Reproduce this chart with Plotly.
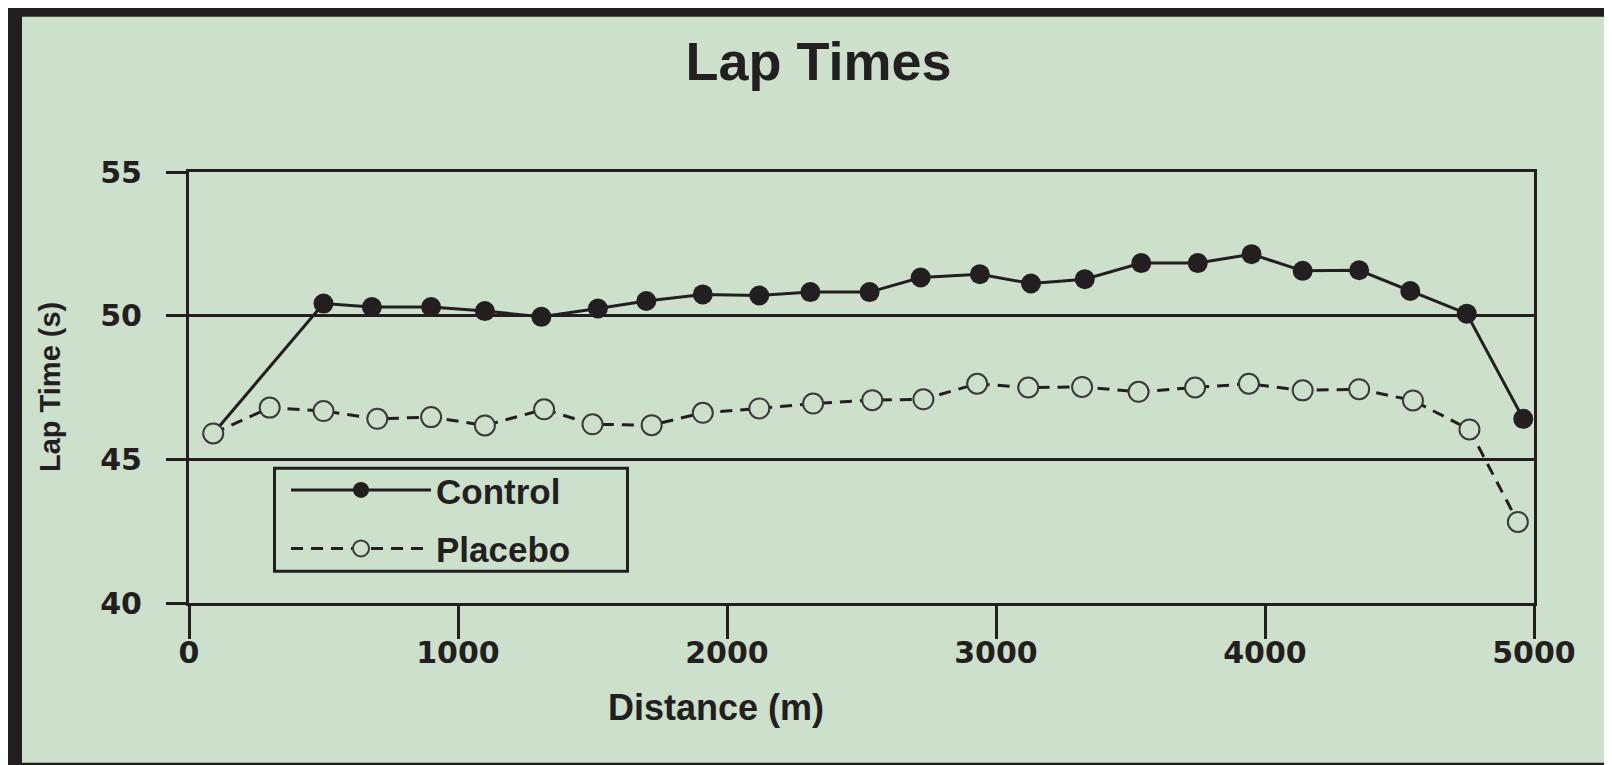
import plotly.graph_objects as go

# ---------------- data ----------------
control_distance = [90, 500, 680, 900, 1100, 1310, 1520, 1700, 1910, 2120, 2310, 2530,
                    2720, 2940, 3130, 3330, 3540, 3750, 3950, 4140, 4350, 4540, 4750, 4960]
control_time = [45.9, 50.42, 50.30, 50.30, 50.16, 49.96, 50.25, 50.51, 50.74, 50.70, 50.82, 50.82,
                51.33, 51.44, 51.12, 51.27, 51.83, 51.83, 52.14, 51.56, 51.58, 50.86, 50.07, 46.41]

placebo_distance = [90, 300, 500, 700, 900, 1100, 1320, 1500, 1720, 1910, 2120, 2320, 2540,
                    2730, 2930, 3120, 3320, 3530, 3740, 3940, 4140, 4350, 4550, 4760, 4940]
placebo_time = [45.9, 46.80, 46.68, 46.41, 46.47, 46.18, 46.74, 46.22, 46.19, 46.62, 46.77, 46.94,
                47.06, 47.09, 47.63, 47.50, 47.52, 47.35, 47.50, 47.63, 47.40, 47.44, 47.05, 46.04, 42.82]

x_ticks = [0, 1000, 2000, 3000, 4000, 5000]
y_ticks = [40, 45, 50, 55]

title_text = "Lap Times"
x_title = "Distance (m)"
y_title = "Lap Time (s)"

# ---------------- style ----------------
INK = "#231f20"
BG = "#cde0cb"
OFF = 8                       # page body margin
W, H = 1612 - OFF, 765 - OFF
L, R, T, B = 189 - OFF, 1534 - OFF, 172.3 - OFF, 603.3 - OFF   # plot area in figure pixels

def px_x(p):
    return (p - L) / (R - L)

def px_y(p):
    return (B - p) / (B - T)

fig = go.Figure()
fig.add_trace(go.Scatter(
    x=control_distance, y=control_time, name="Control", mode="lines+markers",
    legendgroup="control",
    line=dict(color=INK, width=3),
    marker=dict(symbol="circle", size=20, color=INK, line=dict(width=0)),
))
fig.add_trace(go.Scatter(
    x=placebo_distance, y=placebo_time, name="Placebo", mode="lines+markers",
    legendgroup="placebo",
    line=dict(color=INK, width=3, dash="12px,8px"),
    marker=dict(symbol="circle", size=20, color=BG, line=dict(color="#3a3a3a", width=2)),
))

shapes = [
    # outer frame
    dict(type="rect", xref="paper", yref="paper", layer="below",
         x0=px_x(-2), x1=px_x(W + 5), y0=px_y(H + 5), y1=px_y(-2),
         fillcolor=INK, line=dict(width=0)),
    dict(type="rect", xref="paper", yref="paper", layer="below",
         x0=px_x(22 - OFF), x1=px_x(1608 - OFF), y0=px_y(763 - OFF), y1=px_y(17 - OFF),
         fillcolor=BG, line=dict(width=0)),
    # legend box
    dict(type="rect", xref="paper", yref="paper", layer="above",
         x0=px_x(274.5 - OFF), x1=px_x(627.5 - OFF), y0=px_y(571.5 - OFF), y1=px_y(468.5 - OFF),
         fillcolor="rgba(0,0,0,0)", line=dict(color=INK, width=3)),
]

annotations = [
    dict(text=x_title, xref="paper", yref="paper", x=px_x(716 - OFF), y=px_y(700),
         showarrow=False, xanchor="center", yanchor="middle",
         font=dict(family="Liberation Sans, Arial, sans-serif", size=36, color=INK, weight="bold")),
    dict(text=y_title, xref="paper", yref="paper", x=px_x(49.5 - OFF), y=0.5, textangle=-90,
         showarrow=False, xanchor="center", yanchor="middle",
         font=dict(family="Liberation Sans, Arial, sans-serif", size=29, color=INK, weight="bold")),
]

tick_font = dict(family="DejaVu Sans, sans-serif", size=30, color=INK, weight="bold")

fig.update_layout(
    width=W, height=H,
    margin=dict(l=L, r=W - R, t=T, b=H - B, pad=0),
    paper_bgcolor="white",
    plot_bgcolor="rgba(0,0,0,0)",
    title=dict(text=title_text, x=(818.5 - OFF) / W, xanchor="center", xref="container",
               y=1 - 53.5 / H, yanchor="middle", yref="container",
               font=dict(family="Liberation Sans, Arial, sans-serif", size=54, color=INK, weight="bold")),
    shapes=shapes,
    annotations=annotations,
    showlegend=True,
    legend=dict(x=px_x(286 - OFF), y=px_y(461 - OFF), xanchor="left", yanchor="top",
                bgcolor="rgba(0,0,0,0)", borderwidth=0,
                font=dict(family="Liberation Sans, Arial, sans-serif", size=35, color=INK, weight="bold"),
                itemwidth=140, tracegroupgap=10),
    xaxis=dict(range=[0, 5000], tickvals=x_ticks, ticktext=[str(v) for v in x_ticks],
               showgrid=False, zeroline=False, showline=True, linecolor=INK, linewidth=3, mirror=True,
               ticks="outside", ticklen=33, tickwidth=3, tickcolor=INK, tickfont=tick_font,
               ticklabelstandoff=-12),
    yaxis=dict(range=[40, 55], tickvals=y_ticks, ticktext=[str(v) for v in y_ticks],
               showgrid=True, gridcolor=INK, gridwidth=3, zeroline=False,
               showline=True, linecolor=INK, linewidth=3, mirror=True,
               ticks="outside", ticklen=20, tickwidth=3, tickcolor=INK, tickfont=tick_font,
               ticklabelstandoff=18),
)

fig.write_html("out.html")
